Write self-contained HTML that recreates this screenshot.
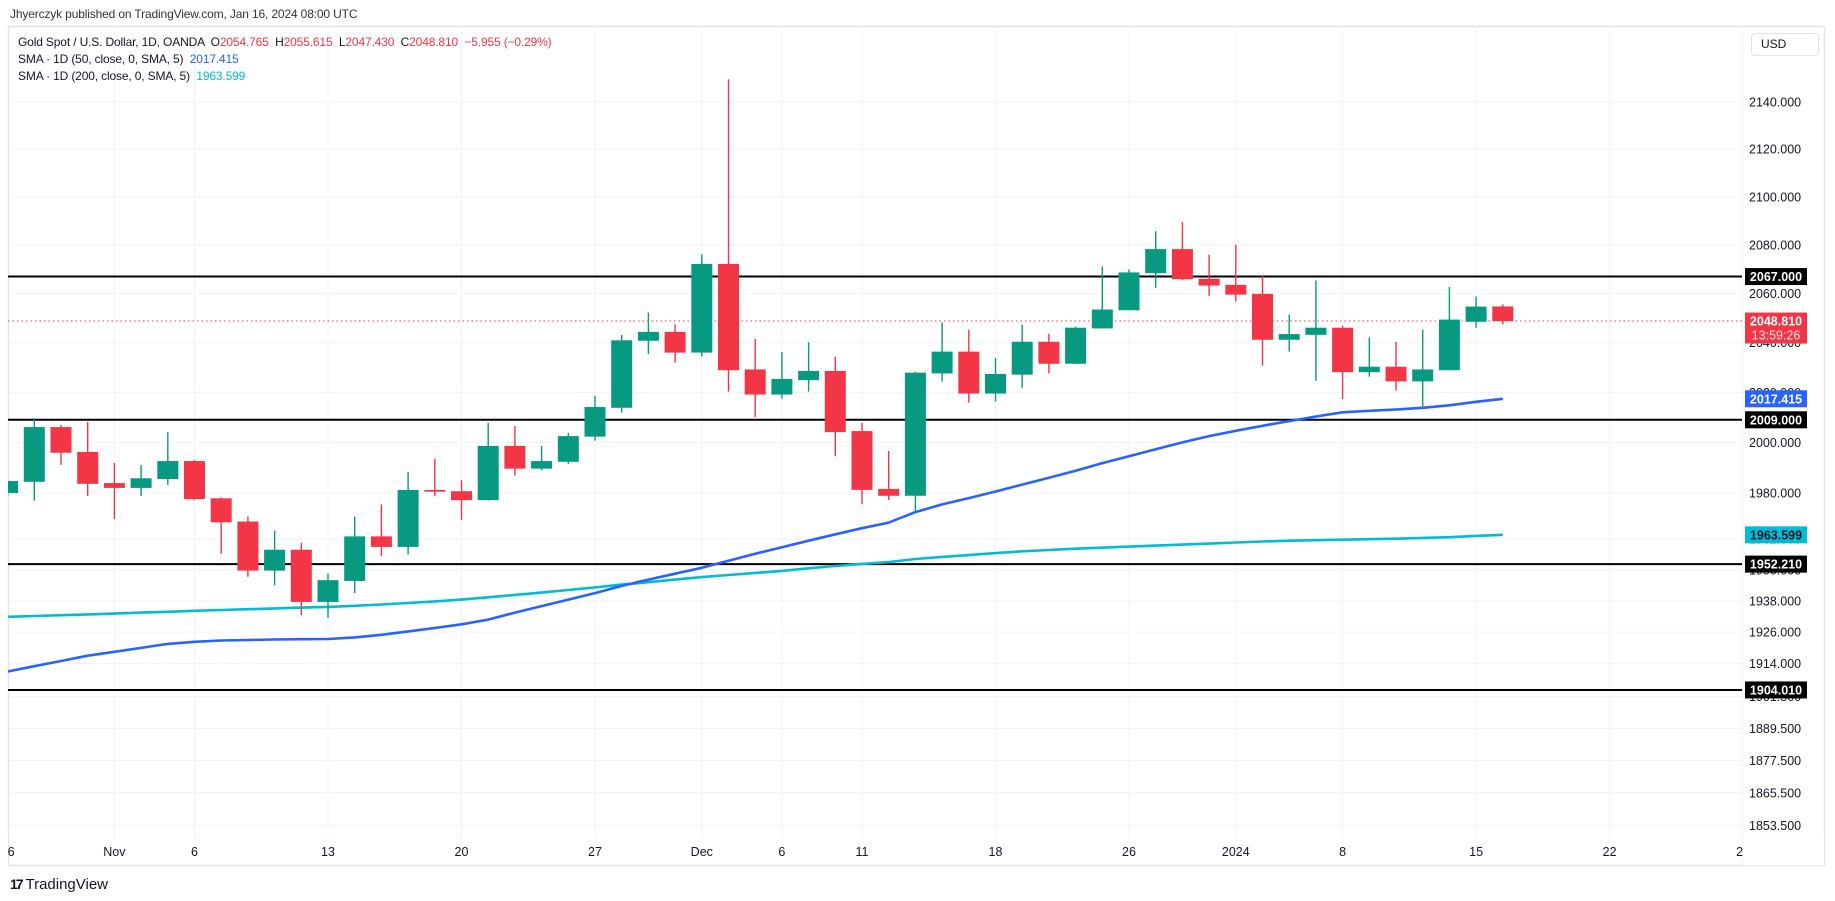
<!DOCTYPE html>
<html><head><meta charset="utf-8">
<style>
html,body{margin:0;padding:0;background:#fff;}
body{width:1835px;height:901px;position:relative;overflow:hidden;font-family:"Liberation Sans",sans-serif;color:#131722;}
.txt{position:absolute;font-size:12px;white-space:pre;letter-spacing:-0.15px;}
.r{color:#f23645}
svg text{font-family:"Liberation Sans",sans-serif;}
</style></head>
<body>
<div class="txt" style="left:10px;top:7px;color:#333;">Jhyerczyk published on TradingView.com, Jan 16, 2024 08:00 UTC</div>
<svg id="chart" width="1835" height="901" style="position:absolute;left:0;top:0;"></svg>
<div class="txt" style="left:18px;top:35px;">Gold Spot / U.S. Dollar, 1D, OANDA  O<span class="r">2054.765</span>  H<span class="r">2055.615</span>  L<span class="r">2047.430</span>  C<span class="r">2048.810</span>  <span class="r">−5.955 (−0.29%)</span></div>
<div class="txt" style="left:18px;top:52px;">SMA · 1D (50, close, 0, SMA, 5)  <span style="color:#2962ff">2017.415</span></div>
<div class="txt" style="left:18px;top:69px;">SMA · 1D (200, close, 0, SMA, 5)  <span style="color:#00bcd4">1963.599</span></div>
<div style="position:absolute;left:1751px;top:33px;width:68px;height:23px;border:1px solid #e0e3eb;border-radius:4px;box-sizing:border-box;font-size:12px;line-height:21px;padding-left:9px;">USD</div>
<div style="position:absolute;left:10px;top:876px;font-size:15px;color:#131722;"><b style="font-size:14px;letter-spacing:-2px">17</b> TradingView</div>
<script>
const opens=[1980,1984.4,2006.1,1996.2,1983.9,1982,1985.5,1992.6,1977.9,1968.8,1949.7,1957.8,1937.6,1945.7,1963,1958.9,1981.2,1980.7,1977.2,1998.6,1989.6,1992.3,2002.3,2013.8,2040.8,2044.4,2036,2072.2,2029.2,2019.1,2024.9,2028.6,2004.5,1981.6,1978.9,2027.6,2036.4,2019.5,2027.1,2040.4,2031.5,2045.8,2053.2,2068.4,2078.3,2066.1,2063.6,2059.9,2041.2,2043.2,2046.1,2028.1,2030.3,2024.4,2028.9,2048.5,2054.765];
const highs=[1985,2009.7,2006.9,2008.1,1991.8,1991,2004.1,1993,1978.3,1970.8,1965.3,1960.5,1948.5,1970.8,1975.5,1988.3,1993.5,1985,2007.8,2006.5,1998.6,2003.8,2018.5,2043.1,2052.3,2047.4,2076.1,2149.6,2041.5,2036.2,2040.2,2034.4,2007.8,1996.6,2028.3,2048.3,2045.3,2033.8,2047.3,2043.7,2046.5,2071.2,2069.9,2085.7,2089.6,2076,2080.1,2067.6,2051.5,2065.4,2046.9,2042.1,2040.4,2045.3,2062.7,2058.8,2055.615];
const lows=[1979,1977,1991.1,1978.8,1969.7,1978.8,1983.2,1977.2,1956.2,1947.3,1944,1932.5,1931.5,1941,1955.4,1955.9,1978.7,1969.4,1977,1986.8,1989,1991.5,2000.7,2011.9,2035.4,2031.9,2034.4,2020.3,2010.1,2017.4,2020.3,1994.6,1975.6,1977.2,1973,2024.3,2015.9,2016.3,2021.8,2027.6,2031.5,2045.8,2053.2,2062.4,2065.5,2059.1,2056.8,2030.7,2036.4,2024.6,2017.3,2026.3,2020.7,2013.6,2028.9,2046.1,2047.43];
const closes=[1984.7,2006.1,1995.9,1983.6,1982,1985.8,1992.6,1977.6,1968.5,1949.7,1957.8,1937.6,1946,1963,1958.9,1981.2,1980.5,1977.2,1998.6,1989.6,1992.6,2002.5,2014.1,2041,2044.4,2036,2072.2,2028.9,2019.1,2025.4,2028.6,2004.1,1981.2,1978.9,2027.9,2036.4,2019.5,2027.4,2040.4,2031.5,2046.1,2053.5,2068.7,2078.3,2065.9,2063.3,2059.6,2041.2,2043.5,2046.1,2028.1,2030.3,2024.4,2029.2,2049.4,2054.7,2048.81];
const sma50=[1911,1913,1915,1917,1918.5,1920,1921.5,1922.3,1922.8,1923,1923.2,1923.3,1923.4,1924,1925,1926.3,1927.6,1929,1930.8,1933.5,1936,1938.5,1941,1943.8,1946.2,1948.5,1950.8,1953.5,1956.2,1958.8,1961.3,1963.8,1966.2,1968.4,1972.5,1975.5,1978,1980.6,1983.3,1986,1988.8,1991.8,1994.5,1997.3,2000,2002.5,2004.6,2006.6,2008.5,2010.3,2012,2012.6,2013.1,2013.8,2014.8,2016.2,2017.415];
const sma200=[1931.9,1932.2,1932.5,1932.8,1933.1,1933.5,1933.8,1934.2,1934.5,1934.8,1935.1,1935.4,1935.7,1936.1,1936.6,1937.2,1937.8,1938.5,1939.4,1940.3,1941.2,1942.2,1943.2,1944.3,1945.2,1946.2,1947.2,1948,1948.8,1949.6,1950.6,1951.5,1952.3,1953,1954.2,1955,1955.7,1956.5,1957.2,1957.7,1958.2,1958.6,1959,1959.4,1959.8,1960.2,1960.6,1961,1961.3,1961.5,1961.7,1961.9,1962.1,1962.4,1962.7,1963.2,1963.599];
const priceTicks=[2140,2120,2100,2080,2060,2040,2020,2000,1980,1962,1950,1938,1926,1914,1901.5,1889.5,1877.5,1865.5,1853.5];
const dateTicks=[0,4,7,12,17,22,26,29,32,37,42,46,50,55,60,65];
const dateLabels=["26","Nov","6","13","20","27","Dec","6","11","18","26","2024","8","15","22","29"];
const hLevels=[2067,2009,1952.21,1904.01];
const lastPrice=2048.81;

const NS="http://www.w3.org/2000/svg";
const svg=document.getElementById('chart');
const PL=8,PR=1742,PT=26,PB=838;
function y(p){return 442.4-5033*Math.log(p/2000);}
function x(i){return 7.6+i*26.7;}
function el(tag,attrs,parent){const e=document.createElementNS(NS,tag);for(const k in attrs)e.setAttribute(k,attrs[k]);(parent||svg).appendChild(e);return e;}
const defs=el('defs',{});
const cp=el('clipPath',{id:'pane'},defs);
el('rect',{x:PL,y:PT,width:PR-PL,height:PB-PT},cp);
// frame
const frame=el('rect',{x:8.5,y:26.5,width:1816,height:839,fill:'none',stroke:'#e0e3eb','stroke-width':1.5});


const g=el('g',{'clip-path':'url(#pane)'});


// grid
priceTicks.forEach(p=>{
  const l=el('line',{x1:PL,x2:PR,y1:y(p),y2:y(p),stroke:'#f0f3fa','stroke-width':1},g);
  
  
});
dateTicks.forEach(i=>{
  const l=el('line',{x1:x(i),x2:x(i),y1:PT,y2:PB,stroke:'#f0f3fa','stroke-width':1},g);
  
  
});
// horizontal levels
hLevels.forEach(p=>{
  const l=el('line',{x1:PL,x2:PR,y1:y(p),y2:y(p),stroke:'#000','stroke-width':2},g);
  
  
});
// last price dotted
const lp=el('line',{x1:PL,x2:PR,y1:y(lastPrice),y2:y(lastPrice),stroke:'#f23645','stroke-width':1,'stroke-dasharray':'1.5,3'},g);


// SMA lines
function line(arr,color,name){
  const d=arr.map((v,i)=>(i?'L':'M')+x(i).toFixed(1)+','+y(v).toFixed(1)).join(' ');
  const p=el('path',{d:d,fill:'none',stroke:color,'stroke-width':2.6,'stroke-linejoin':'round'},g);
  
  
}
line(sma200,'#00bcd4','sma200-line');
line(sma50,'#2962ff','sma50-line');
// candles
opens.forEach((o,i)=>{
  const c=closes[i],up=c>=o,col=up?'#089981':'#f23645';
  const cg=el('g',{},g);
  
  
  el('line',{x1:x(i),x2:x(i),y1:y(highs[i]),y2:y(lows[i]),stroke:col,'stroke-width':1.4},cg);
  const t=y(Math.max(o,c)),b=y(Math.min(o,c));
  el('rect',{x:x(i)-10.5,y:t,width:21,height:Math.max(1.5,b-t),fill:col},cg);
});
// axes separators
const sep=el('line',{x1:1742.5,x2:1742.5,y1:26,y2:866,stroke:'#f0f3fa','stroke-width':1});


// price labels
priceTicks.forEach(p=>{
  const t=el('text',{x:1749,y:y(p)+4.5,'font-size':12.5,fill:'#131722'});
  t.textContent=p.toFixed(3);
  
  
});
// date labels
dateTicks.forEach((i,k)=>{
  const t=el('text',{x:x(i),y:856,'font-size':12.5,fill:'#131722','text-anchor':'middle'});
  t.textContent=dateLabels[k];
  
  
});
// cover overflow on left/right of time axis
el('rect',{x:0,y:838,width:8,height:28,fill:'#fff'});
el('rect',{x:1743,y:838,width:81,height:27,fill:'#fff'});
// value boxes
function box(p,bg,fg,txt,name,h){
  const cy=y(p);
  const bx=el('g',{});
  
  
  el('rect',{x:1745,y:cy-8.5,width:62,height:h||17,fill:bg},bx);
  const t=el('text',{x:1776,y:cy+4.5,'font-size':12.5,'font-weight':'bold',fill:fg,'text-anchor':'middle'},bx);
  t.textContent=txt;
  return bx;
}
hLevels.forEach(p=>box(p,'#000','#fff',p.toFixed(3),'level-value-box'));
box(1963.599,'#00bcd4','#131722','1963.599','sma200-value-box');
box(2017.415,'#2962ff','#fff','2017.415','sma50-value-box');
const lb=box(lastPrice,'#f23645','#fff','2048.810','last-price-box',31);
const ct=el('text',{x:1776,y:y(lastPrice)+18.5,'font-size':12.5,fill:'#fde0e3','text-anchor':'middle'},lb);
ct.textContent='13:59:26';


</script>
</body></html>
